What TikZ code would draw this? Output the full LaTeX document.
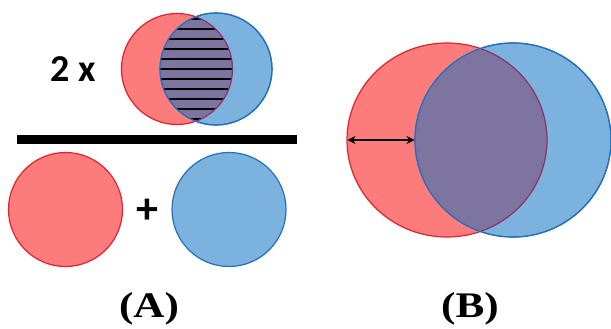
\documentclass[tikz,border=0pt]{standalone}
\usepackage{fontspec}
\setmainfont{Liberation Serif}
\newfontfamily\calib{Carlito}
\usetikzlibrary{arrows.meta}
\definecolor{rfill}{RGB}{252,124,124}
\definecolor{rline}{RGB}{228,32,44}
\definecolor{bfill}{RGB}{124,178,222}
\definecolor{bline}{RGB}{34,112,190}
\definecolor{pfill}{RGB}{126,116,160}
\definecolor{pline}{RGB}{140,50,100}
\tikzset{
  redc/.style={fill=rfill,draw=rline,line width=1.2pt},
  bluec/.style={fill=bfill,draw=bline,line width=1.2pt},
  lbl/.style={font=\bfseries\fontsize{36}{40}\selectfont,inner sep=0pt,anchor=base,xscale=1.2},
  sans/.style={font=\calib\bfseries\fontsize{38}{42}\selectfont,inner sep=0pt},
  hatch/.style={line width=1.6pt,black}
}
\begin{document}
\begin{tikzpicture}[x=1pt,y=-1pt]
\useasboundingbox (0,0) rectangle (611,329);
% ---------- (A) top Venn ----------
\coordinate (ra) at (177,69);
\coordinate (ba) at (216,69);
\path[redc] (ra) circle[radius=55.5];
\path[bluec] (ba) circle[radius=56];
\begin{scope}
  \clip (ra) circle[radius=55.5];
  \clip (ba) circle[radius=56];
  \fill[pfill] (150,0) rectangle (245,140);
  \foreach \yy in {19,29,...,120} \draw[hatch] (150,\yy) -- (245,\yy);
\end{scope}
\begin{scope}
  \clip (ba) circle[radius=56];
  \draw[pline,line width=1.2pt] (ra) circle[radius=55.5];
\end{scope}
\draw[bline,line width=1.2pt] (ba) circle[radius=56];
\node[sans,anchor=base] (twox) at (73,82) {2 x};
% fraction bar
\fill[black] (17,135) rectangle (297,144);
% bottom circles
\node[circle,redc,minimum size=114pt,inner sep=0pt] (cr) at (65.5,209.5) {};
\node[circle,bluec,minimum size=114pt,inner sep=0pt] (cb) at (229,209.5) {};
\node[sans,font=\calib\bfseries\fontsize{44}{48}\selectfont] (plus) at (147,211) {+};
\node[lbl] (A) at (149,317) {(A)};
% ---------- (B) ----------
\coordinate (rb) at (447,140);
\coordinate (bb) at (513,140);
\path[redc] (rb) ellipse[x radius=100,y radius=97];
\path[bluec] (bb) ellipse[x radius=98,y radius=97];
\begin{scope}
  \clip (rb) ellipse[x radius=100,y radius=97];
  \fill[pfill] (bb) ellipse[x radius=98,y radius=97];
\end{scope}
\begin{scope}
  \clip (bb) ellipse[x radius=98,y radius=97];
  \draw[pline,line width=1.2pt] (rb) ellipse[x radius=100,y radius=97];
\end{scope}
\draw[bline,line width=1.2pt] (bb) ellipse[x radius=98,y radius=97];
\coordinate (al) at (347.5,140);
\coordinate (ar) at (414.5,140);
\draw[line width=1.3pt,{Stealth[length=8pt,width=8pt]}-{Stealth[length=8pt,width=8pt]}] (al) -- (ar);
\node[lbl] (B) at (470,317) {(B)};
\end{tikzpicture}
\end{document}
